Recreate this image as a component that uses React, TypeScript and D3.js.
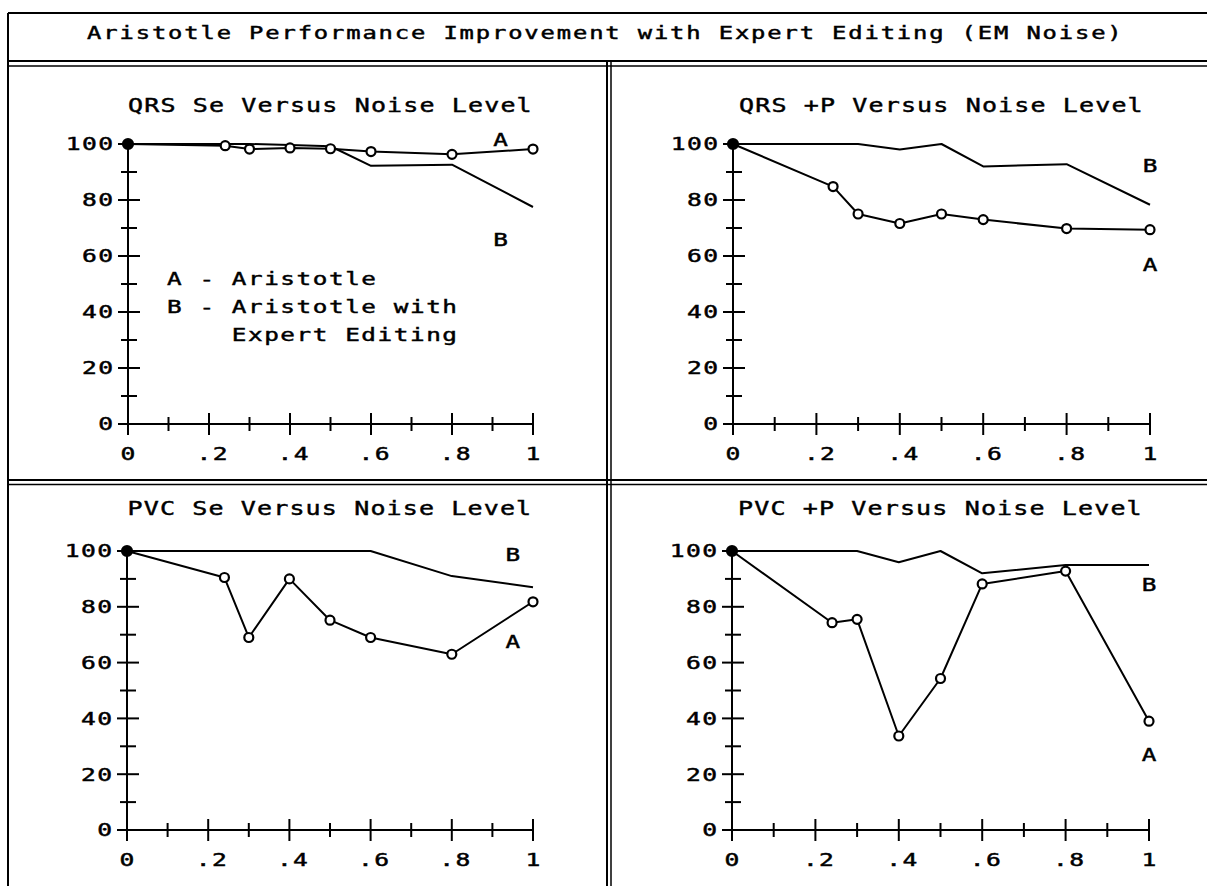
import React from 'react';
import * as d3 from 'd3';

// noise level at which every run was scored
const noiseLevels = [0, 0.24, 0.3, 0.4, 0.5, 0.6, 0.8, 1.0];

// A = Aristotle, B = Aristotle with expert editing
const qrsSeA = [100, 99.4, 98.2, 98.6, 98.3, 97.3, 96.3, 98.2];
const qrsSeB = [100, 100, 100, 99.6, 99.2, 92.2, 92.6, 77.5];
const qrsPpA = [100, 84.8, 75, 71.6, 75, 73, 69.8, 69.4];
const qrsPpB = [100, 100, 100, 98, 100, 92, 92.8, 78.3];
const pvcSeA = [100, 90.5, 69, 90, 75.2, 69, 63, 81.8];
const pvcSeB = [100, 100, 100, 100, 100, 100, 91, 87];
const pvcPpA = [100, 74.3, 75.5, 33.7, 54.3, 88.2, 92.8, 39];
const pvcPpB = [100, 100, 100, 96, 100, 92, 95, 95];

const yTicks = [0, 20, 40, 60, 80, 100];
const yMinor = [10, 30, 50, 70, 90];
const xTicks = [0, 0.2, 0.4, 0.6, 0.8, 1];
const xTickLabels = ['0', '.2', '.4', '.6', '.8', '1'];
const xMinor = [0.1, 0.3, 0.5, 0.7, 0.9];

const chartTitle = 'Aristotle Performance Improvement with Expert Editing (EM Noise)';
const legendLines = ['A - Aristotle', 'B - Aristotle with', '    Expert Editing'];

const W = 1207;
const H = 886;
const FONT = "'DejaVu Sans Mono', 'Liberation Mono', monospace";
const CELL = 16.2; // plotter font: fixed character pitch

// plotter-style text: monospace, stretched sideways, fixed pitch
const T: React.FC<{
  x: number; y: number; size?: number; sx?: number;
  anchor?: 'start' | 'middle' | 'end'; children: string | number;
}> = ({ x, y, size = 17, sx = 1.45, anchor = 'start', children }) => {
  const ls = CELL / sx - size * 0.602;
  const trail = anchor === 'middle' ? ls * sx / 2 : anchor === 'end' ? ls * sx : 0;
  return (
    <text
      transform={`translate(${x + trail},${y}) scale(${sx},1)`}
      textAnchor={anchor}
      fontFamily={FONT}
      fontSize={size}
      letterSpacing={ls}
      fill="#000"
      stroke="#000"
      strokeWidth={0.45}
      style={{ whiteSpace: 'pre' }}
    >
      {children}
    </text>
  );
};

type PanelDef = {
  title: string;
  a: number[];
  b: number[];
  x0: number; x1: number; yTop: number; yBot: number; titleY: number;
  labA: [number, number];
  labB: [number, number];
  legend?: boolean;
};

const panels: PanelDef[] = [
  { title: 'QRS Se Versus Noise Level', a: qrsSeA, b: qrsSeB, titleY: 111.5,
    x0: 128, x1: 533, yTop: 144, yBot: 424, labA: [0.92, 101.5], labB: [0.92, 66], legend: true },
  { title: 'QRS +P Versus Noise Level', a: qrsPpA, b: qrsPpB, titleY: 111.5,
    x0: 733, x1: 1150, yTop: 144, yBot: 424, labA: [1.0, 57], labB: [1.0, 92.5] },
  { title: 'PVC Se Versus Noise Level', a: pvcSeA, b: pvcSeB, titleY: 514.5,
    x0: 127, x1: 533, yTop: 551, yBot: 830, labA: [0.95, 67.4], labB: [0.95, 98.6] },
  { title: 'PVC +P Versus Noise Level', a: pvcPpA, b: pvcPpB, titleY: 514.5,
    x0: 732, x1: 1149, yTop: 551, yBot: 830, labA: [1.0, 27], labB: [1.0, 88] },
];

const Panel: React.FC<{ p: PanelDef }> = ({ p }) => {
  const x = d3.scaleLinear().domain([0, 1]).range([p.x0, p.x1]);
  const y = d3.scaleLinear().domain([0, 100]).range([p.yBot, p.yTop]);
  const line = d3.line<number>()
    .x((_, i) => x(noiseLevels[i]))
    .y(d => y(d));
  const titleX = (p.x0 + p.x1) / 2 - (p.title.length * CELL) / 2;

  return (
    <g>
      <T x={titleX} y={p.titleY} size={20} sx={1.25}>{p.title}</T>

      {/* axes */}
      <line x1={p.x0} x2={p.x0} y1={p.yBot} y2={p.yTop} stroke="#000" strokeWidth={2} />
      <line x1={p.x0} x2={p.x1} y1={p.yBot} y2={p.yBot} stroke="#000" strokeWidth={2} />
      {yTicks.map(t => (
        <g key={'y' + t}>
          <line x1={p.x0 - 10} x2={p.x0 + 12} y1={y(t)} y2={y(t)} stroke="#000" strokeWidth={2} />
          <T x={p.x0 - 15} y={y(t) + 6.3} anchor="end">{t}</T>
        </g>
      ))}
      {yMinor.map(t => (
        <line key={'ym' + t} x1={p.x0 - 7} x2={p.x0 + 9} y1={y(t)} y2={y(t)} stroke="#000" strokeWidth={2} />
      ))}
      {xTicks.map((t, i) => (
        <g key={'x' + t}>
          <line x1={x(t)} x2={x(t)} y1={p.yBot - 11} y2={p.yBot + 11} stroke="#000" strokeWidth={2} />
          <T x={x(t) + (xTickLabels[i].length > 1 ? 3 : 0)} y={p.yBot + 36} anchor="middle">
            {xTickLabels[i]}
          </T>
        </g>
      ))}
      {xMinor.map(t => (
        <line key={'xm' + t} x1={x(t)} x2={x(t)} y1={p.yBot - 7} y2={p.yBot + 7} stroke="#000" strokeWidth={2} />
      ))}

      {/* series */}
      <path d={line(p.b) || ''} fill="none" stroke="#000" strokeWidth={2} strokeLinejoin="round" />
      <path d={line(p.a) || ''} fill="none" stroke="#000" strokeWidth={2} strokeLinejoin="round" />
      {p.a.map((v, i) => (
        <circle key={'m' + i} cx={x(noiseLevels[i])} cy={y(v)} r={i === 0 ? 5 : 4.5}
          fill={i === 0 ? '#000' : '#fff'} stroke="#000" strokeWidth={2.2} />
      ))}

      <T x={x(p.labA[0])} y={y(p.labA[1]) + 6.5} anchor="middle" size={18} sx={1.35}>A</T>
      <T x={x(p.labB[0])} y={y(p.labB[1]) + 6.5} anchor="middle" size={18} sx={1.35}>B</T>

      {p.legend && legendLines.map((l, i) => (
        <T key={'lg' + i} x={167} y={285 + i * 28} size={18} sx={1.35}>{l}</T>
      ))}
    </g>
  );
};

const App: React.FC = () => {
  const titleX = W / 2 - (chartTitle.length * CELL) / 2 + 2;
  return (
    <div style={{ position: 'absolute', left: 0, top: 0 }}>
      <svg width={W} height={H} style={{ display: 'block', background: '#fff' }}>
        {/* frame */}
        <line x1={8} x2={W} y1={13} y2={13} stroke="#000" strokeWidth={2} />
        <line x1={8} x2={8} y1={13} y2={H} stroke="#000" strokeWidth={2} />
        <line x1={8} x2={W} y1={61} y2={61} stroke="#000" strokeWidth={2} />
        <line x1={8} x2={W} y1={66} y2={66} stroke="#000" strokeWidth={1.5} />
        <line x1={8} x2={W} y1={480} y2={480} stroke="#000" strokeWidth={2} />
        <line x1={8} x2={W} y1={484.5} y2={484.5} stroke="#000" strokeWidth={1.5} />
        <line x1={607} x2={607} y1={61} y2={H} stroke="#000" strokeWidth={2} />
        <line x1={611} x2={611} y1={61} y2={H} stroke="#000" strokeWidth={1.5} />

        <T x={titleX} y={38.5} sx={1.4}>{chartTitle}</T>

        {panels.map((p, i) => <Panel key={i} p={p} />)}
      </svg>
    </div>
  );
};

export default App;
